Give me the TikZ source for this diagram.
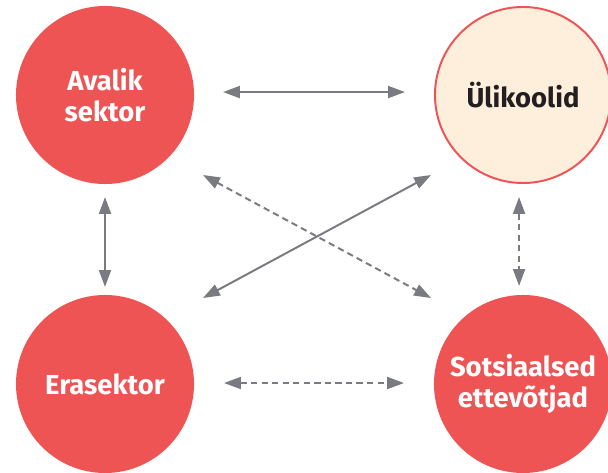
\documentclass[tikz,border=0pt]{standalone}
\usepackage{fontspec}
\setmainfont{Fira Sans}
\usetikzlibrary{arrows.meta}
\definecolor{koral}{HTML}{EF5455}
\definecolor{kreem}{HTML}{FDEFDC}
\definecolor{hall}{HTML}{7A7B80}
\definecolor{tume}{HTML}{231F20}
\tikzset{
  sector/.style={circle, fill=koral, minimum size=4.45cm, inner sep=0pt, outer sep=0pt,
    align=center, text=white, font=\fontsize{19.5}{22.5}\selectfont\bfseries},
  ylik/.style={sector, fill=kreem, draw=koral, line width=1.4pt, minimum size=4.4cm, text=tume},
  link/.style={hall, line width=1.4pt, {Triangle[length=12pt,width=8.5pt]}-{Triangle[length=12pt,width=8.5pt]}},
  dlink/.style={link, dash pattern=on 4.5pt off 3pt}
}
\begin{document}
\begin{tikzpicture}[x=0.025cm, y=-0.025cm]
\useasboundingbox (0,0) rectangle (608,473);
% ringid
\node[sector] (avalik) at (105,95) {Avalik\\sektor};
\node[ylik] (ylikoolid) at (523,95) {Ülikoolid};
\node[sector] (erasektor) at (105,384) {Erasektor};
\node[sector] (sotsiaal) at (523,384) {Sotsiaalsed\\ettevõtjad};
% diagonaalide otsad
\coordinate (dsa) at (203,298);
\coordinate (dsb) at (431,175);
\coordinate (dda) at (203,175);
\coordinate (ddb) at (431,298);
% nooled
\draw[link, shorten <=0.725cm, shorten >=0.75cm] ([yshift=2.1pt]avalik.east) -- ([yshift=2.1pt]ylikoolid.west);
\draw[link, shorten <=0.325cm, shorten >=0.2cm] (avalik.south) -- (erasektor.north);
\draw[dlink, shorten <=0.35cm, shorten >=0.225cm] ([xshift=-2.8pt]ylikoolid.south) -- ([xshift=-2.8pt]sotsiaal.north);
\draw[dlink, shorten <=0.75cm, shorten >=0.75cm] ([yshift=0.7pt]erasektor.east) -- ([yshift=0.7pt]sotsiaal.west);
\draw[link] (dsa) -- (dsb);
\draw[dlink] (dda) -- (ddb);
\end{tikzpicture}
\end{document}
